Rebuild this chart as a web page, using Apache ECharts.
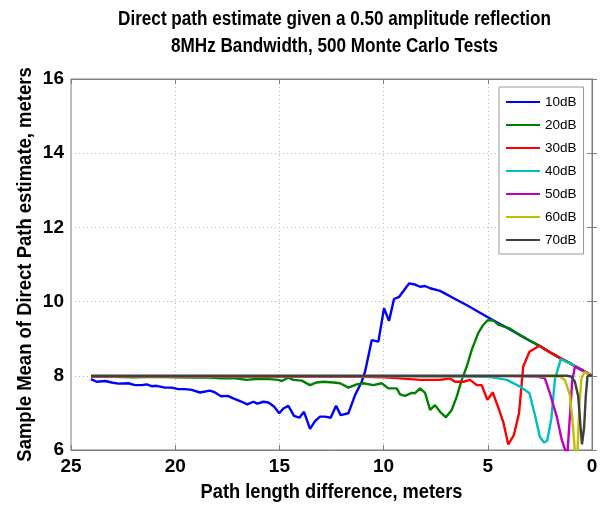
<!DOCTYPE html>
<html>
<head>
<meta charset="utf-8">
<script src="https://cdn.jsdelivr.net/npm/echarts@6/dist/echarts.min.js"></script>
<style>html,body{margin:0;padding:0;background:#fff;}#c{width:606px;height:506px;}</style>
</head>
<body>
<div id="c"></div>
<script>
// Data: [path length difference (m), sample mean (m)]
var seriesNames = ['10dB', '20dB', '30dB', '40dB', '50dB', '60dB', '70dB'];
var seriesColors = ['#0000ff', '#008000', '#ff0000', '#00bfbf', '#bf00bf', '#bfbf00', '#404040'];
var xTicks = [0, 5, 10, 15, 20, 25];
var yTicks = [6, 8, 10, 12, 14, 16];
var titleLines = ['Direct path estimate given a 0.50 amplitude reflection', '8MHz Bandwidth, 500 Monte Carlo Tests'];
var xName = 'Path length difference, meters';
var yName = 'Sample Mean of Direct Path estimate, meters';

var s10dB = [[24.04,7.91],[23.77,7.84],[23.37,7.86],[23.05,7.82],[22.73,7.79],[22.25,7.80],[21.93,7.75],[21.61,7.75],[21.37,7.77],[21.13,7.72],[20.89,7.73],[20.49,7.68],[20.17,7.68],[19.85,7.64],[19.53,7.64],[19.21,7.62],[18.81,7.55],[18.33,7.60],[18.09,7.55],[17.80,7.45],[17.48,7.46],[17.21,7.39],[16.89,7.32],[16.54,7.23],[16.25,7.30],[16.06,7.25],[15.77,7.30],[15.53,7.28],[15.26,7.17],[15.01,6.99],[14.81,7.12],[14.57,7.19],[14.30,6.92],[14.04,6.87],[13.82,7.03],[13.53,6.57],[13.29,6.78],[13.05,6.90],[12.81,6.90],[12.54,6.87],[12.28,7.19],[12.06,6.94],[11.69,6.99],[11.37,7.48],[11.05,7.84],[10.89,8.11],[10.57,8.96],[10.25,8.92],[9.98,9.82],[9.74,9.48],[9.50,10.07],[9.25,10.13],[8.78,10.49],[8.49,10.46],[8.25,10.40],[8.01,10.42],[7.77,10.36],[7.29,10.29],[6.50,10.05],[6.00,9.90],[5.50,9.74],[5.00,9.58],[4.50,9.42],[4.00,9.27],[3.50,9.11],[3.00,8.95],[2.50,8.80],[2.00,8.63],[1.50,8.47],[1.00,8.32],[0.50,8.16],[0.00,8.00]];

var s20dB = [[24.04,7.97],[23.0,7.97],[22.0,7.96],[21.0,7.97],[20.0,7.96],[19.0,7.95],[18.5,7.96],[17.85,7.93],[17.2,7.94],[16.57,7.89],[16.0,7.92],[15.5,7.91],[15.05,7.89],[14.89,7.86],[14.57,7.95],[14.33,7.89],[13.93,7.87],[13.53,7.75],[13.21,7.82],[12.89,7.84],[12.41,7.82],[12.09,7.80],[11.69,7.68],[11.29,7.77],[10.97,7.80],[10.49,7.75],[10.09,7.80],[9.77,7.66],[9.37,7.66],[9.21,7.50],[8.97,7.46],[8.65,7.54],[8.49,7.53],[8.25,7.66],[8.01,7.54],[7.77,7.08],[7.53,7.21],[7.29,7.03],[7.01,6.88],[6.73,7.08],[6.49,7.44],[6.25,7.89],[6.01,8.25],[5.77,8.70],[5.46,9.15],[5.22,9.37],[5.02,9.49],[4.81,9.50],[4.65,9.46],[4.50,9.38],[3.93,9.27],[3.50,9.11],[3.00,8.95],[2.50,8.80],[2.00,8.63],[1.50,8.47],[1.00,8.32],[0.50,8.16],[0.00,8.00]];

var s30dB = [[24.04,7.98],[20.0,7.98],[15.0,7.97],[11.0,7.97],[10.0,7.96],[9.21,7.93],[8.73,7.91],[8.25,7.89],[7.77,7.89],[7.29,7.89],[6.81,7.93],[6.57,7.84],[6.17,7.84],[5.85,7.89],[5.53,7.75],[5.29,7.75],[5.02,7.35],[4.76,7.55],[4.50,7.15],[4.26,6.76],[4.02,6.15],[3.75,6.40],[3.50,7.00],[3.30,8.25],[3.00,8.65],[2.53,8.81],[2.00,8.63],[1.50,8.47],[1.00,8.32],[0.50,8.16],[0.00,8.00]];

var s40dB = [[24.04,7.99],[15.0,7.99],[10.0,7.99],[6.0,7.98],[5.0,7.97],[4.50,7.93],[4.09,7.89],[3.45,7.71],[3.00,7.53],[2.74,6.95],[2.50,6.35],[2.30,6.20],[2.15,6.25],[1.95,6.85],[1.78,7.90],[1.50,8.45],[1.00,8.32],[0.50,8.16],[0.00,8.00]];

var s50dB = [[24.04,7.99],[15.0,7.99],[8.0,7.99],[4.0,7.99],[2.65,7.98],[2.26,7.93],[2.02,7.53],[1.69,6.90],[1.45,6.27],[1.30,6.02],[1.18,5.90],[1.05,7.00],[0.95,7.85],[0.82,8.25],[0.60,8.19],[0.50,8.16],[0.00,8.00]];

var s60dB = [[24.04,7.99],[15.0,7.99],[8.0,7.99],[3.0,7.99],[1.54,7.98],[1.30,7.89],[1.06,7.48],[0.92,6.70],[0.82,5.95],[0.70,5.90],[0.60,7.30],[0.50,7.95],[0.36,8.10],[0.20,8.06],[0.00,8.00]];

var s70dB = [[24.04,8.00],[15.0,8.00],[8.0,8.00],[3.0,8.00],[1.20,8.00],[1.00,7.98],[0.82,7.84],[0.66,7.44],[0.55,6.63],[0.48,6.15],[0.38,6.60],[0.30,7.44],[0.22,7.98],[0.10,8.02],[0.00,8.00]];

var allData = [s10dB, s20dB, s30dB, s40dB, s50dB, s60dB, s70dB];

var FONT = '"Liberation Sans", Arial, Helvetica, sans-serif';
var W = 606, H = 506;
var G = {left: 71, right: 14, top: 79, bottom: 56};
var plotCx = G.left + (W - G.left - G.right) / 2;
var plotCy = G.top + (H - G.top - G.bottom) / 2;

var chart = echarts.init(document.getElementById('c'), null, {renderer: 'canvas'});

var axisCommon = {
  axisLine: {show: true, lineStyle: {color: '#7f7f7f', width: 1}},
  axisTick: {show: true, inside: true, length: 5, lineStyle: {color: '#7f7f7f'}},
  splitLine: {show: false}
};
var gridLine = {show: true, lineStyle: {color: '#b8b8b8', type: [1, 3], width: 1}};
var tickFont = {fontFamily: FONT, fontWeight: 'bold', fontSize: 19, color: '#000'};

function label(text, x, y, size, sx, rot) {
  return {
    type: 'text', x: x, y: y, scaleX: sx, rotation: rot || 0, z: 100,
    style: {text: text, fontFamily: FONT, fontWeight: 'bold', fontSize: size, fill: '#000',
            align: 'center', verticalAlign: 'middle'}
  };
}

var option = {
  animation: false,
  backgroundColor: '#ffffff',
  graphic: [
    label(titleLines[0], plotCx + 3, 19, 20, 0.856),
    label(titleLines[1], plotCx + 3, 46, 20, 0.856),
    label(xName, plotCx, 492, 21, 0.87),
    label(yName, 25, plotCy, 21, 0.88, Math.PI / 2)
  ],
  legend: {
    orient: 'vertical', left: 499, top: 87,
    itemWidth: 34, itemHeight: 2, itemGap: 9,
    icon: 'rect',
    padding: [8, 7, 7, 7],
    backgroundColor: '#fff', borderColor: '#999', borderWidth: 1,
    textStyle: {fontFamily: FONT, fontSize: 13.5, lineHeight: 14, color: '#000'},
    data: seriesNames
  },
  grid: {left: G.left, right: G.right, top: G.top, bottom: G.bottom, show: true, borderColor: '#7f7f7f', borderWidth: 1},
  xAxis: [
    Object.assign({}, axisCommon, {
      type: 'value', inverse: true, min: xTicks[0], max: xTicks[xTicks.length - 1], interval: 5,
      position: 'bottom',
      axisLabel: Object.assign({margin: 7}, tickFont),
      splitLine: gridLine
    }),
    Object.assign({}, axisCommon, {
      type: 'value', inverse: true, min: xTicks[0], max: xTicks[xTicks.length - 1], interval: 5,
      position: 'top', axisLabel: {show: false}
    })
  ],
  yAxis: [
    Object.assign({}, axisCommon, {
      type: 'value', min: yTicks[0], max: yTicks[yTicks.length - 1], interval: 2,
      position: 'left',
      axisLabel: Object.assign({margin: 7}, tickFont),
      splitLine: gridLine
    }),
    Object.assign({}, axisCommon, {
      type: 'value', min: yTicks[0], max: yTicks[yTicks.length - 1], interval: 2,
      position: 'right', axisLabel: {show: false}
    })
  ],
  series: seriesNames.map(function (n, i) {
    return {
      name: n, type: 'line', data: allData[i],
      xAxisIndex: 0, yAxisIndex: 0,
      symbol: 'none', smooth: false, clip: true,
      color: seriesColors[i],
      itemStyle: {color: seriesColors[i]},
      lineStyle: {color: seriesColors[i], width: 2.4}
    };
  })
};
chart.setOption(option);
</script>
</body>
</html>
